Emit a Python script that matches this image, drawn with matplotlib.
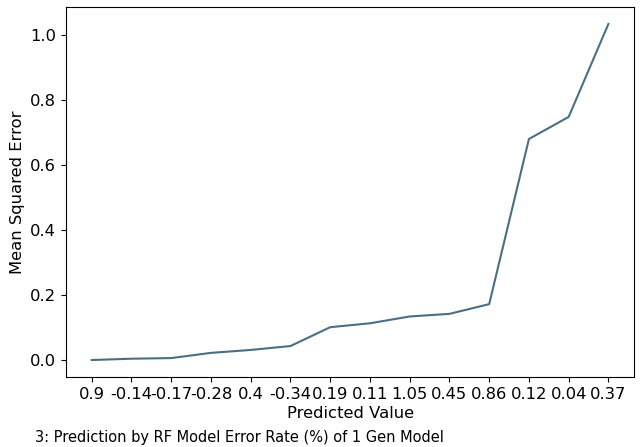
import matplotlib
matplotlib.use("Agg")
import matplotlib.pyplot as plt

# predicted values (x tick labels) and the error for each
predicted = ['0.9', '-0.14', '-0.17', '-0.28', '0.4', '-0.34', '0.19',
             '0.11', '1.05', '0.45', '0.86', '0.12', '0.04', '0.37']
mse = [0.0, 0.004, 0.006, 0.022, 0.031, 0.043, 0.101,
       0.113, 0.134, 0.142, 0.172, 0.680, 0.748, 1.034]

fig = plt.figure(figsize=(6.4, 4.47), dpi=100)
ax = fig.add_axes([0.103, 0.157, 0.888, 0.827])

ax.plot(range(len(mse)), mse, color='#4a6f85', linewidth=1.5)
ax.set_xticks(range(len(predicted)))
ax.set_xticklabels(predicted)
ax.tick_params(labelsize=11.8)
ax.set_yticks([0.0, 0.2, 0.4, 0.6, 0.8, 1.0])
ax.set_xlabel('Predicted Value', fontsize=11.8, labelpad=3)
ax.set_ylabel('Mean Squared Error', fontsize=11.8)

# caption under the chart
fig.text(0.055, 0.004, '3: Prediction by RF Model Error Rate (%) of 1 Gen Model',
         fontsize=10.5, va='bottom', ha='left')

fig.savefig('out.png', dpi=100)
